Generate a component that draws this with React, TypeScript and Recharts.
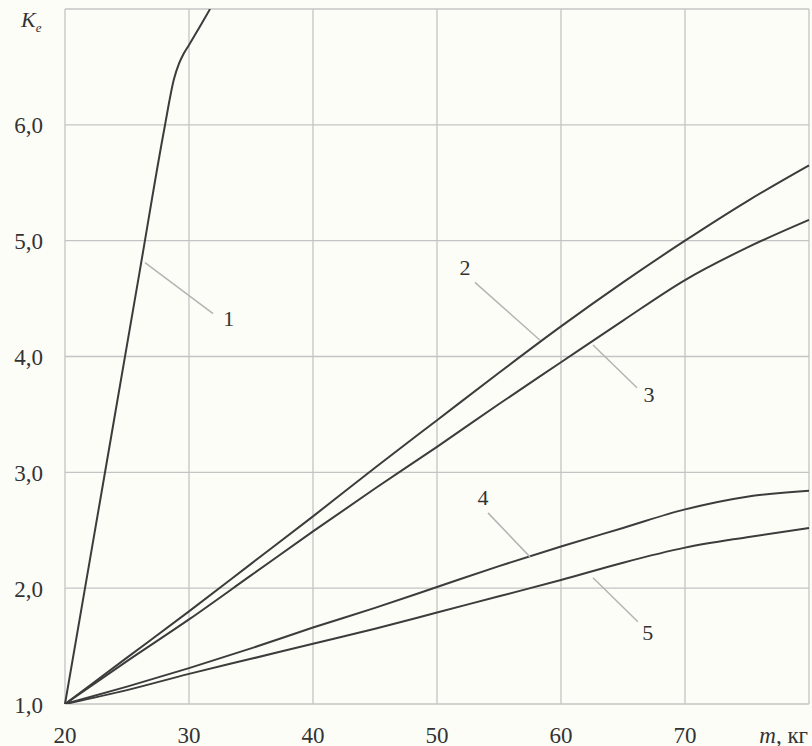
import React from "react";
import {
  LineChart,
  Line,
  XAxis,
  YAxis,
  CartesianGrid,
  ReferenceLine,
  ReferenceDot,
} from "recharts";

const massTicks = [20, 30, 40, 50, 60, 70, 80];
const coefTicks = [1, 2, 3, 4, 5, 6, 7];

// curve 1 is steep and leaves the plot at the top
const curve1Mass = [20, 22, 24, 26, 28, 28.8, 29.2, 29.6, 30, 31, 31.7];
const curve1Coef = [1.0, 2.24, 3.48, 4.72, 5.96, 6.4, 6.53, 6.62, 6.69, 6.87, 7.0];

// curves 2..5 share the same mass steps
const massSteps = [20, 25, 30, 35, 40, 45, 50, 55, 60, 65, 70, 75, 80];
const curve2Coef = [1.0, 1.4, 1.8, 2.21, 2.62, 3.04, 3.45, 3.86, 4.26, 4.64, 5.0, 5.34, 5.65];
const curve3Coef = [1.0, 1.37, 1.73, 2.11, 2.49, 2.86, 3.22, 3.59, 3.95, 4.31, 4.66, 4.94, 5.18];
const curve4Coef = [1.0, 1.15, 1.31, 1.48, 1.66, 1.83, 2.01, 2.19, 2.36, 2.52, 2.68, 2.79, 2.84];
const curve5Coef = [1.0, 1.12, 1.26, 1.39, 1.52, 1.65, 1.79, 1.93, 2.07, 2.22, 2.35, 2.44, 2.52];

// curve number labels with their leader lines (data coordinates)
const labelNames = ["1", "2", "3", "4", "5"];
const leaderFrom = [
  { x: 26.45, y: 4.81 },
  { x: 53.06, y: 4.64 },
  { x: 62.58, y: 4.1 },
  { x: 54.11, y: 2.65 },
  { x: 62.58, y: 2.09 },
];
const leaderTo = [
  { x: 31.94, y: 4.37 },
  { x: 58.31, y: 4.14 },
  { x: 66.13, y: 3.73 },
  { x: 57.5, y: 2.27 },
  { x: 66.2, y: 1.71 },
];
const labelAt = [
  { x: 33.2, y: 4.33 },
  { x: 52.26, y: 4.77 },
  { x: 67.1, y: 3.67 },
  { x: 53.7, y: 2.78 },
  { x: 67.0, y: 1.62 },
];

const toPoints = (xs: number[], ys: number[]) => xs.map((m, i) => ({ m, k: ys[i] }));

const curves = [
  toPoints(curve1Mass, curve1Coef),
  toPoints(massSteps, curve2Coef),
  toPoints(massSteps, curve3Coef),
  toPoints(massSteps, curve4Coef),
  toPoints(massSteps, curve5Coef),
];

const FONT = "'Liberation Serif', 'DejaVu Serif', serif";
const TEXT = "#333";
const CURVE = "#3c3c3c";
const GRID = "#c4c4c4";
const LEADER = "#b4b4b4";

function MassTick(props: any) {
  const { x, payload } = props;
  if (payload.value === 80) {
    return (
      <text x={x - 1} y={735} textAnchor="end" dominantBaseline="central" fontFamily={FONT} fontSize={23} fill={TEXT}>
        <tspan fontStyle="italic">m</tspan>, кг
      </text>
    );
  }
  return (
    <text x={x} y={735} textAnchor="middle" dominantBaseline="central" fontFamily={FONT} fontSize={23} fill={TEXT}>
      {payload.value}
    </text>
  );
}

function CoefTick(props: any) {
  const { y, payload } = props;
  if (payload.value === 7) {
    return (
      <text x={21} y={27} fontFamily={FONT} fontSize={22} fill={TEXT} fontStyle="italic">
        K<tspan fontSize={13} dy={5}>e</tspan>
      </text>
    );
  }
  return (
    <text x={43} y={y + 1} textAnchor="end" dominantBaseline="central" fontFamily={FONT} fontSize={23} fill={TEXT}>
      {payload.value.toFixed(1).replace(".", ",")}
    </text>
  );
}

export default function App() {
  return (
    <div style={{ position: "absolute", left: 0, top: 0, width: 812, height: 746, background: "#fdfdf8" }}>
      <LineChart width={812} height={746} margin={{ top: 9, right: 3, left: 0, bottom: 0 }}>
        <CartesianGrid stroke={GRID} strokeWidth={1.3} />
        <XAxis
          dataKey="m"
          type="number"
          domain={[20, 80]}
          ticks={massTicks}
          height={42}
          axisLine={false}
          tickLine={false}
          tick={<MassTick />}
          interval={0}
        />
        <YAxis
          type="number"
          domain={[1, 7]}
          ticks={coefTicks}
          width={65}
          allowDataOverflow
          axisLine={false}
          tickLine={false}
          tick={<CoefTick />}
          interval={0}
        />
        {curves.map((pts, i) => (
          <Line
            key={i}
            data={pts}
            dataKey="k"
            type="monotone"
            stroke={CURVE}
            strokeWidth={2}
            dot={false}
            activeDot={false}
            isAnimationActive={false}
          />
        ))}
        {labelNames.map((name, i) => (
          <ReferenceLine
            key={"l" + name}
            segment={[leaderFrom[i], leaderTo[i]]}
            stroke={LEADER}
            strokeWidth={1.5}
            ifOverflow="visible"
          />
        ))}
        {labelNames.map((name, i) => (
          <ReferenceDot
            key={"t" + name}
            x={labelAt[i].x}
            y={labelAt[i].y}
            r={0}
            ifOverflow="visible"
            shape={(p: any) => (
              <text
                x={p.cx}
                y={p.cy}
                textAnchor="middle"
                dominantBaseline="central"
                fontFamily={FONT}
                fontSize={22}
                fill={TEXT}
              >
                {name}
              </text>
            )}
          />
        ))}
      </LineChart>
    </div>
  );
}
